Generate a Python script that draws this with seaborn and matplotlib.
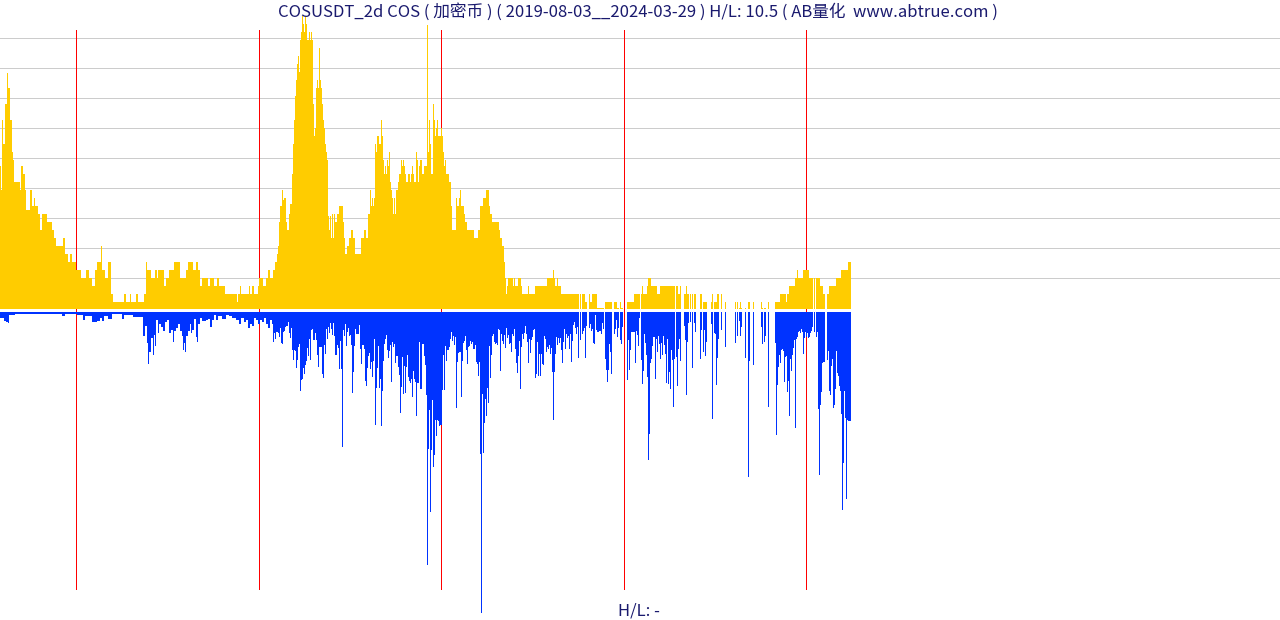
import numpy as np
import pandas as pd
import matplotlib
matplotlib.use("Agg")
import matplotlib.pyplot as plt
import seaborn as sns

# ---------------- data (pixel-read, run-length: (end_bar_index, value)) ----------------
title_text = "COSUSDT_2d COS ( 加密币 ) ( 2019-08-03__2024-03-29 ) H/L: 10.5 ( AB量化  www.abtrue.com )"
footer_text = "H/L: -"

price_steps = [
    (1,143),(2,119),(3,189),(5,165),(7,205),(8,236),(10,221),(12,189),(13,157),(14,149),(20,127),(21,119),
    (23,143),(25,135),(26,119),(30,99),(32,119),(34,103),(35,111),(38,103),(40,95),(42,79),(47,95),(52,87),
    (54,79),(56,71),(63,63),(65,71),(68,55),(70,47),(72,55),(76,47),(81,39),(86,31),(89,39),(92,31),(95,23),
    (97,39),(101,47),(102,63),(105,39),(108,31),(111,47),(113,15),(124,7),(126,15),(130,7),(131,15),(136,7),
    (138,15),(144,7),(146,15),(147,47),(151,39),(155,31),(157,39),(158,31),(164,39),(166,23),(169,31),(174,39),
    (180,47),(186,31),(188,39),(193,47),(196,39),(198,47),(200,39),(202,23),(208,31),(210,23),
    (214,31),(217,23),(219,31),(225,23),(237,15),(238,7),(240,15),(241,23),(249,15),(250,23),(252,15),(254,23),
    (258,15),(259,23),(263,31),(266,23),(268,31),(270,39),(273,31),(275,39),(277,47),(278,55),(279,63),(280,87),
    (282,103),(283,119),(284,109),(286,111),(287,87),(289,79),(290,95),(292,105),(293,135),(294,165),(295,189),
    (296,213),(297,229),(298,245),(299,253),(300,237),(301,269),(302,277),(303,293),(304,285),(305,277),(306,293),
    (307,285),(309,269),(310,277),(311,269),(312,277),(313,269),(314,205),(315,173),(316,181),(317,221),(318,229),
    (319,221),(320,261),(321,229),(322,221),(323,205),(324,189),(325,181),(326,165),(327,157),(328,149),(329,93),
    (330,79),(331,93),(332,71),(333,95),(334,71),(335,95),(337,87),(339,95),(343,103),(344,87),(345,71),(347,55),
    (349,63),(351,71),(353,79),(355,71),(361,55),(364,71),(366,79),(368,71),(370,95),(371,119),(372,103),(373,111),
    (374,103),(375,111),(376,165),(377,157),(379,173),(381,165),(382,189),(383,173),(384,149),(385,135),(386,143),
    (387,135),(388,149),(389,143),(390,157),(391,127),(392,119),(393,111),(394,95),(395,111),(396,95),(398,119),
    (399,127),(401,135),(402,149),(403,143),(404,149),(405,143),(406,135),(408,127),(410,135),(411,127),(412,135),
    (413,143),(414,135),(416,127),(417,157),(418,149),(419,127),(420,143),
    (422,149),(424,135),(427,143),(428,284),(429,157),(430,189),(431,165),(433,135),(434,205),(435,189),(436,173),
    (437,181),(438,189),(441,173),(442,181),(443,173),(444,157),(445,143),(446,149),(449,135),(451,127),(452,103),
    (456,79),(457,111),(459,103),(460,111),(461,119),(464,103),(465,95),(467,87),(474,79),(478,71),(480,79),
    (483,103),(486,111),(489,119),(490,103),(492,95),(499,87),(500,79),(502,71),(504,63),(505,47),(506,31),
    (507,15),(508,23),(513,31),(514,23),(515,31),(518,23),(521,31),(522,23),(528,15),(529,23),(535,15),(547,23),
    (553,31),(554,39),(555,31),(557,23),(558,31),(561,23),(585,15),(587,7),(590,15),(592,7),(597,15),(604,1),
    (617,7),(620,1),(621,7),(627,1),(634,7),(635,15),
    (642,15),(643,23),(647,15),(648,23),(651,31),(657,23),(660,15),(678,23),(680,15),(684,23),(686,15),(687,23),
    (702,15),(712,7),(713,15),(717,7),(722,15),(739,7),(740,1),(741,7),(742,1),(745,7),(748,1),(750,7),(753,1),
    (755,7),(760,1),(762,7),(768,1),(770,7),(771,1),(780,7),(786,15),(787,7),(789,15),(795,23),(797,31),(798,39),
    (803,31),(809,39),(820,31),(823,23),(829,15),(836,23),(841,31),(848,39),(851,47),
]

volume_steps = [
    (2,6),(4,6),(6,9),(8,10),(9,11),(15,3),(62,2),(65,4),(77,2),(83,3),(85,8),(92,4),(97,10),(100,9),(102,6),
    (104,9),(108,4),(112,7),(122,2),(124,7),(133,3),(143,5),(145,24),(147,14),(148,31),(149,52),(151,40),(153,26),
    (154,43),(155,23),(156,34),(158,8),(159,21),(161,12),(163,15),(165,19),(167,10),(169,8),(171,21),(173,18),
    (174,30),(176,19),(178,16),(180,12),(182,19),(183,24),(184,38),(185,31),(186,40),(188,24),(190,19),(191,12),
    (192,21),(194,18),(196,7),(197,25),(198,30),(200,12),(202,6),(206,9),(208,8),(210,7),
    (212,15),(214,8),(216,3),(218,8),(222,4),(226,7),(229,3),(232,4),(236,6),(239,8),(241,12),(244,6),(246,10),
    (248,8),(250,16),(252,12),(254,14),(256,6),(258,8),(260,12),(262,8),(264,10),(266,6),(268,12),(270,16),(272,8),
    (273,12),(274,30),(275,21),(276,27),(278,20),(279,21),(280,25),(281,16),(282,31),(283,32),(284,20),(285,19),
    (286,15),(288,14),(289,10),(290,21),(291,26),(292,16),(293,38),(294,48),(295,38),(296,39),(297,56),(298,48),
    (299,35),(300,32),(301,79),(302,68),(303,67),(304,56),(305,62),(306,53),(307,49),(308,36),(309,44),(310,27),
    (311,48),(312,18),(313,17),(315,28),(316,21),(317,28),(318,43),(319,55),(322,35),(323,62),(324,66),(325,33),
    (326,42),(327,17),(328,27),(329,15),(330,21),(331,11),(332,17),(333,23),(334,11),(335,24),(337,43),(338,33),
    (339,36),(340,57),(341,29),(342,57),(343,135),(344,18),(345,24),(346,12),(347,34),(348,20),(349,16),(350,24),
    (351,23),(352,33),(353,81),(354,60),(355,34),(356,17),(359,22),(360,13),(361,37),(362,52),(364,33),(365,37),
    (366,69),(367,74),(368,56),(369,44),(370,41),(371,57),(372,50),(373,65),(374,49),(375,27),(376,113),(377,76),
    (378,56),(379,34),(380,76),(381,67),(382,114),(383,79),(384,49),(385,32),(386,27),(387,23),(388,38),(389,46),
    (390,39),(391,33),(392,70),(393,30),(394,35),(395,32),(396,51),(398,44),(399,55),(400,63),(401,101),(402,75),
    (403,45),(404,82),(405,54),(406,81),(407,55),(408,43),(409,65),(410,69),(411,71),(412,67),(413,85),(414,59),
    (415,67),(416,70),(417,104),(419,71),(420,30),
    (422,77),(424,32),(425,44),(426,53),(427,83),(428,253),(429,137),(430,98),(431,200),(432,138),(433,88),
    (434,155),(435,143),(436,108),(437,124),(438,108),(439,109),(440,114),(442,113),(443,78),(444,43),(445,78),
    (446,34),(447,49),(449,38),(450,35),(451,27),(452,20),(453,29),(454,24),(455,33),(456,25),(457,96),(458,50),
    (459,41),(461,40),(462,85),(463,49),(464,31),(465,29),(466,24),(467,38),(468,52),(469,35),(470,34),(471,29),
    (472,32),(473,30),(475,37),(476,33),(477,50),(478,52),(479,64),(480,50),(481,142),(482,301),(483,82),(484,141),
    (485,111),(486,87),(487,104),(488,76),(489,91),(490,34),(491,66),(492,43),(493,24),(494,22),(495,30),(496,32),
    (497,31),(498,33),(499,17),(500,18),(501,59),(502,22),(503,29),(504,32),(505,23),(506,36),(507,16),(508,26),
    (509,23),(510,32),(511,31),(512,40),(513,22),(514,24),(515,17),(516,37),(517,51),(518,61),(519,44),(520,29),
    (521,77),(522,35),(523,22),(524,27),(525,21),(526,14),(527,22),(528,30),(529,51),(530,27),(531,41),(532,28),
    (533,25),(534,18),(535,17),(536,66),(537,62),(538,30),(539,64),(540,42),(541,64),(542,42),(543,52),(544,53),
    (545,24),(546,27),(547,40),(548,35),(549,37),(550,33),(551,42),(552,36),(553,60),(554,108),(555,60),(556,42),
    (557,25),(558,33),(559,26),(560,31),(561,26),(562,38),(563,51),(564,30),(565,17),(566,37),(567,22),(568,26),
    (569,24),(570,37),(571,22),(572,50),(573,29),(574,13),(575,10),(576,16),(577,22),(578,15),(579,46),(580,0),
    (581,28),(582,0),(583,22),(584,19),(585,16),(586,46),(587,14),(589,0),(590,16),(591,12),(592,19),(593,17),
    (594,31),(595,32),(596,3),(597,18),(599,20),(601,19),(602,22),(603,11),(604,17),(605,0),(606,47),(607,58),
    (608,70),(609,58),(610,32),(611,40),(612,62),(614,0),(615,22),(616,17),(617,8),(618,25),(619,16),(620,0),
    (621,28),(622,32),(623,15),(627,0),(628,68),(629,28),(630,58),(631,38),(635,20),
    (636,51),(637,19),(638,23),(639,34),(640,6),(641,0),(642,48),(643,72),(644,59),(645,22),(646,31),(647,43),
    (648,65),(649,148),(650,122),(651,51),(652,47),(653,34),(655,25),(656,67),(657,27),(658,40),(659,24),(660,32),
    (661,47),(662,31),(663,43),(664,24),(665,33),(666,42),(667,71),(668,27),(669,72),(670,60),(671,77),(672,38),
    (673,48),(674,95),(675,47),(676,0),(677,45),(678,74),(679,37),(680,27),(681,49),(684,0),(685,14),(686,28),
    (687,83),(688,30),(689,11),(690,0),(691,10),(692,0),(693,56),(694,0),(695,11),(696,20),(700,0),(701,47),
    (702,18),(703,0),(704,40),(705,18),(706,44),(707,30),(711,0),(712,12),(713,107),(714,0),(715,21),(716,22),
    (717,73),(718,46),(719,27),(721,0),(722,18),(725,0),(726,35),(735,0),(736,31),(737,0),(738,24),(739,0),
    (740,9),(741,24),(742,15),(745,0),(746,46),(748,0),(749,165),(750,49),(753,0),(754,53),(761,0),(762,15),
    (763,32),(764,0),(765,30),(766,24),(768,0),(769,95),(775,0),(776,31),(777,123),(778,73),(779,55),(780,43),
    (781,51),(782,38),(783,37),(784,39),(785,70),(786,45),(787,44),(788,80),(789,69),(790,104),(791,47),(792,59),
    (793,43),(794,36),(795,28),(796,116),(797,27),(798,25),(799,20),(800,19),(801,21),(802,17),(803,20),(804,42),
    (805,26),(806,20),(807,25),(808,21),(809,26),(810,25),(811,21),(812,19),(813,15),(814,0),(815,20),(816,0),
    (817,25),(818,20),(819,97),(820,163),(821,93),(822,80),(823,51),(825,50),(827,0),(828,48),(829,39),(830,79),
    (831,83),(832,54),(833,47),(834,96),(835,93),(836,77),(837,39),(838,61),(839,64),(840,74),(841,79),(842,102),
    (843,198),(844,151),(845,79),(846,106),(847,187),(848,108),(851,109),
]

year_marks = [76, 259, 441, 624, 806]          # bar index of the red year separators
grid_levels = [271, 241, 211, 181, 151, 121, 91, 61, 31]  # price-panel reference levels


def expand(steps):
    out, prev = [], 0
    for end, v in steps:
        out.extend([v] * (end - prev))
        prev = end
    return np.array(out, dtype=float)


price = expand(price_steps)
volume = expand(volume_steps)
price = np.where(volume == 0, 0, price)   # missing bars are empty in both panels
idx = np.arange(len(price)) + 0.5

df = pd.DataFrame({"x": idx, "price": price, "volume": volume})

# ---------------- figure ----------------
W, H = 1280, 620
fig = plt.figure(figsize=(W / 100, H / 100), dpi=100)
fig.patch.set_facecolor("white")

TOP_BASE = 309   # pixel row of price baseline
BOT_TOP = 312    # pixel row where volume bars start

# background layer: grid + year marks as 1-px filled strips (drawn behind the bars)
bg = fig.add_axes([0, 0, 1, 1])
bg.set_xlim(0, W)
bg.set_ylim(H, 0)
bg.axis("off")
for g in grid_levels:
    y = TOP_BASE - g
    bg.fill_between([0, W], y, y + 1, color="#cccccc", lw=0, antialiased=False)
for m in year_marks:
    bg.fill_betweenx([30, 590], m, m + 1, color="#ff0000", lw=0, antialiased=False)

# price panel (yellow, upward)
ax_top = fig.add_axes([0, (H - TOP_BASE) / H, 1, TOP_BASE / H])
ax_top.patch.set_alpha(0)
sns.barplot(data=df, x="x", y="price", native_scale=True, width=1.0, color="#ffcc00",
            saturation=1, linewidth=0, errorbar=None, ax=ax_top)
ax_top.set_xlim(0, W)
ax_top.set_ylim(0, TOP_BASE)
ax_top.axis("off")

# volume panel (blue, downward)
ax_bot = fig.add_axes([0, 0, 1, (H - BOT_TOP) / H])
ax_bot.patch.set_alpha(0)
sns.barplot(data=df, x="x", y="volume", native_scale=True, width=1.0, color="#0033ff",
            saturation=1, linewidth=0, errorbar=None, ax=ax_bot)
ax_bot.set_xlim(0, W)
ax_bot.set_ylim(H - BOT_TOP, 0)
ax_bot.axis("off")

fam = ["Noto Sans CJK SC", "DejaVu Sans"]
fig.text(638 / W, 1 - 12 / H, title_text, ha="center", va="center", fontsize=12,
         color="#1a1a6e", family=fam)
fig.text(639 / W, 1 - 611 / H, footer_text, ha="center", va="center", fontsize=12,
         color="#1a1a6e", family=fam)

fig.savefig("out.png", dpi=100, facecolor="white")
